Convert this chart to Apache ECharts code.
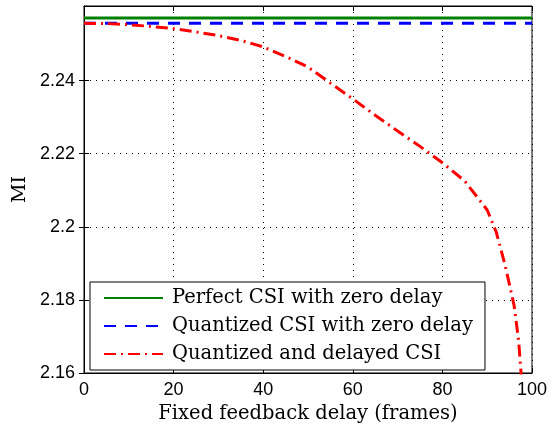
<!DOCTYPE html>
<html>
<head>
<meta charset="utf-8">
<script src="https://cdn.jsdelivr.net/npm/echarts@6/dist/echarts.min.js"></script>
<style>
html,body{margin:0;padding:0;background:#fff;}
#c{width:552px;height:430px;}
</style>
</head>
<body>
<div id="c"></div>
<script>
var seriesNames = ['Perfect CSI with zero delay', 'Quantized CSI with zero delay', 'Quantized and delayed CSI'];
var xTicks = [0, 20, 40, 60, 80, 100];
var yTicks = [2.16, 2.18, 2.2, 2.22, 2.24];
var perfectX = [0, 100];
var perfectY = [2.2571, 2.2571];
var quantX = [0, 100];
var quantY = [2.2557, 2.2557];
var delayX = [0, 5, 10, 15, 20, 25, 30, 35, 40, 45, 50, 55, 60, 65, 70, 75, 80, 85, 90, 92, 94, 96, 97, 98, 100];
var delayY = [2.2557, 2.2556, 2.2553, 2.2548, 2.2542, 2.2533, 2.2523, 2.2510, 2.2492, 2.2466, 2.2437, 2.2393, 2.2350, 2.2305, 2.2262, 2.2220, 2.2175, 2.2125, 2.2046, 2.1986, 2.1895, 2.1785, 2.1690, 2.1530, 2.1300];

function pairs(xs, ys) { return xs.map(function (x, i) { return [x, ys[i]]; }); }

var chart = echarts.init(document.getElementById('c'), null, {renderer: 'canvas'});
var tickFont = {fontFamily: 'Liberation Sans', fontSize: 18, color: '#000'};
var serif = 'DejaVu Serif';
var gridLine = {show: true, lineStyle: {color: '#000', type: [1, 5], width: 1}};
var yMax = 2.2604;
chart.setOption({
  animation: false,
  backgroundColor: '#fff',
  grid: {left: 84, right: 20, top: 6, bottom: 57, show: true, borderColor: '#000', borderWidth: 1, backgroundColor: 'transparent'},
  xAxis: [{
    type: 'value', min: xTicks[0], max: xTicks[xTicks.length - 1], interval: 20,
    axisLine: {show: true, onZero: false, lineStyle: {color: '#000', width: 1}},
    axisTick: {show: true, inside: true, length: 5, lineStyle: {color: '#000'}},
    axisLabel: Object.assign({margin: 8}, tickFont),
    splitLine: gridLine,
    name: 'Fixed feedback delay (frames)', nameLocation: 'middle', nameGap: 30,
    nameTextStyle: {fontFamily: serif, fontSize: 19.5, color: '#000'}
  }, {
    type: 'value', position: 'top', min: 0, max: 100, interval: 20,
    axisLine: {show: true, lineStyle: {color: '#000'}},
    axisTick: {show: true, inside: true, length: 5, lineStyle: {color: '#000'}},
    axisLabel: {show: false}, splitLine: {show: false}
  }],
  yAxis: [{
    type: 'value', min: yTicks[0], max: yMax,
    axisLine: {show: true, onZero: false, lineStyle: {color: '#000', width: 1}},
    axisTick: {show: true, inside: true, length: 5, lineStyle: {color: '#000'}, customValues: yTicks},
    axisLabel: Object.assign({margin: 9, customValues: yTicks, formatter: function (v) {
      return String(+v.toFixed(2));
    }}, tickFont),
    splitLine: gridLine,
    name: 'MI', nameLocation: 'middle', nameGap: 52,
    nameTextStyle: {fontFamily: serif, fontSize: 19, color: '#000'}
  }, {
    type: 'value', position: 'right', min: yTicks[0], max: yMax,
    axisLine: {show: true, lineStyle: {color: '#000'}},
    axisTick: {show: true, inside: true, length: 5, lineStyle: {color: '#000'}, customValues: yTicks},
    axisLabel: {show: false, customValues: yTicks}, splitLine: {show: false}
  }],
  legend: {
    orient: 'vertical', left: 90, top: 282, itemWidth: 59, itemHeight: 12, itemGap: 8,
    padding: [6, 12, 6, 13],
    borderColor: '#000', borderWidth: 1, backgroundColor: '#fff',
    itemStyle: {opacity: 0},
    textStyle: {fontFamily: serif, fontSize: 19.5, color: '#000', padding: [0, 0, 0, 4]},
    data: seriesNames
  },
  series: [{
    name: seriesNames[0], type: 'line', symbol: 'none', data: pairs(perfectX, perfectY),
    lineStyle: {color: '#008000', width: 3}, itemStyle: {color: '#008000'}
  }, {
    name: seriesNames[1], type: 'line', symbol: 'none', data: pairs(quantX, quantY),
    lineStyle: {color: '#0000ff', width: 3, type: [12, 9]}, itemStyle: {color: '#0000ff'}
  }, {
    name: seriesNames[2], type: 'line', symbol: 'none', data: pairs(delayX, delayY), clip: true,
    lineStyle: {color: '#ff0000', width: 3, type: [12, 5, 2, 5]}, itemStyle: {color: '#ff0000'}
  }]
});
</script>
</body>
</html>
